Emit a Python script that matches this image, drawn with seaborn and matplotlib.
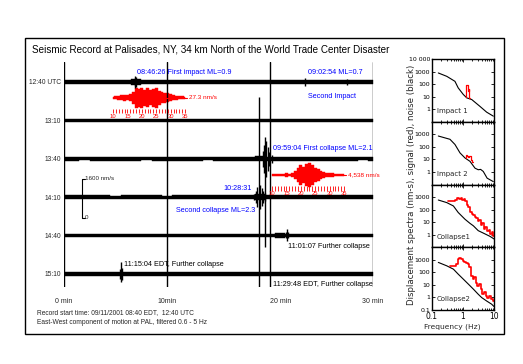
import numpy as np
import pandas as pd
import matplotlib
matplotlib.use("Agg")
import matplotlib.pyplot as plt
import seaborn as sns
from matplotlib.patches import Rectangle
from matplotlib.ticker import FixedLocator, NullLocator, LogLocator, NullFormatter

sns.set_theme(style="white")
plt.rcParams['font.family'] = ['Liberation Sans', 'DejaVu Sans']

# ------------------------------------------------------------------ data
trace_labels = ["12:40 UTC", "13:10", "13:40", "14:10", "14:40", "15:10"]
minutes = list(range(31))
# half-amplitude of background noise on each trace, nm/s, one value per minute
noise_0 = [68, 72, 70, 76, 72, 74, 80, 110, 76, 72, 74, 70, 76, 72, 72, 74, 76, 72, 70, 72, 74, 76, 72, 80, 85, 76, 72, 78, 80, 74, 72]
noise_1 = [70, 72, 74, 72, 70, 76, 72, 74, 72, 70, 72, 76, 74, 72, 72, 70, 72, 74, 76, 72, 72, 74, 72, 70, 76, 74, 72, 72, 70, 72, 74]
noise_2 = [72, 74, 70, 72, 76, 72, 74, 72, 70, 74, 72, 76, 72, 74, 70, 72, 74, 76, 80, 105, 95, 84, 80, 76, 74, 72, 76, 74, 72, 70, 72]
noise_3 = [74, 72, 76, 72, 74, 70, 72, 74, 76, 72, 70, 74, 72, 76, 74, 72, 74, 76, 90, 115, 90, 80, 76, 74, 72, 74, 72, 76, 74, 72, 74]
noise_4 = [76, 74, 72, 76, 74, 72, 76, 74, 72, 74, 76, 72, 74, 72, 76, 74, 72, 74, 76, 74, 76, 90, 76, 74, 72, 76, 74, 72, 74, 76, 74]
noise_5 = [76, 74, 76, 72, 74, 80, 90, 76, 74, 76, 72, 74, 76, 74, 72, 76, 74, 72, 76, 74, 76, 74, 72, 76, 74, 72, 76, 74, 72, 76, 74]
noise_traces = [noise_0, noise_1, noise_2, noise_3, noise_4, noise_5]

# transient arrivals: trace index, time (min), upward and downward excursion (nm/s)
event_trace = [0, 0, 0, 0, 0,
               2, 2, 2, 2, 2, 2, 2,
               3, 3, 3, 3, 3, 3, 3, 3,
               4, 4, 4,
               5, 5, 5]
event_time = [6.85, 6.9, 6.95, 23.4, 27.5,
              19.3, 19.45, 19.55, 19.65, 19.8, 19.95, 20.15,
              18.4, 18.6, 18.75, 18.9, 19.05, 19.2, 19.35, 19.55,
              21.55, 21.65, 21.75,
              5.45, 5.53, 5.6]
event_up = [170, 250, 210, 170, 125,
            333, 583, 917, 750, 500, 292, 167,
            125, 250, 417, 4170, 500, 375, 250, 167,
            150, 290, 150,
            210, 500, 250]
event_down = [170, 250, 210, 170, 125,
              333, 583, 3670, 750, 500, 292, 167,
              125, 250, 417, 3830, 500, 375, 250, 167,
              120, 210, 120,
              210, 330, 250]

# red magnified waveforms (normalised envelope, one value per second, 10..35 s)
inset_seconds = list(range(10, 36))
inset_tick_labels = ["10", "15", "20", "25", "30", "35"]
impact_env = [0.1, 0.15, 0.2, 0.25, 0.3, 0.25, 0.35, 0.6, 1.0, 0.9, 1.0, 0.8, 0.95,
              0.75, 0.9, 1.0, 0.7, 0.55, 0.5, 0.45, 0.35, 0.25, 0.2, 0.15, 0.15, 0.1]
collapse_env = [0.05, 0.05, 0.05, 0.1, 0.12, 0.15, 0.12, 0.15, 0.3, 0.55, 0.85, 0.7, 0.95,
                1.0, 0.8, 0.6, 0.5, 0.3, 0.25, 0.2, 0.15, 0.2, 0.1, 0.08, 0.05, 0.05]
impact_peak_label = "27.3 nm/s"
collapse_peak_label = "4,538 nm/s"

# displacement spectra (nm-s)
imp1_noise_f = [0.16, 0.30, 0.55, 0.70, 1.02, 1.32, 1.91, 3.5, 5.8, 9.5]
imp1_noise_v = [770, 415, 166, 50, 15, 8, 5.9, 1.7, 0.58, 0.28]
imp1_sig_f = [1.25, 1.28, 1.40, 1.42, 1.52, 1.55, 1.68]
imp1_sig_v = [10, 85, 85, 30, 30, 40, 8]

imp2_noise_f = [0.16, 0.38, 0.55, 0.80, 1.16, 1.68, 2.44, 3.1, 3.7, 4.5, 6.0, 9.5]
imp2_noise_v = [730, 400, 155, 33, 13, 7, 2, 1.5, 1.6, 1.1, 0.32, 0.17]
imp2_sig_f = [1.27, 1.32, 1.45, 1.55, 1.65, 1.85, 2.05]
imp2_sig_v = [12, 22, 20, 17, 19, 9, 6]

col1_noise_f = [0.16, 0.30, 0.49, 0.70, 1.16, 1.68, 2.16, 3.1, 4.5, 7.4, 10.0]
col1_noise_v = [580, 360, 195, 59, 17, 8, 5.1, 2.1, 1.35, 0.74, 0.46]
col1_sig_f = [0.33, 0.4, 0.5, 0.6, 0.7, 0.8, 0.9, 1.0, 1.1, 1.2, 1.4, 1.6, 1.8, 2.0,
              2.2, 2.5, 2.8, 3.2, 3.6, 4.0, 4.5, 5.0, 5.6, 6.3, 7.0, 8.0, 9.0, 10.0]
col1_sig_v = [450, 480, 520, 600, 800, 700, 850, 600, 650, 450, 250, 150, 60, 45,
              40, 25, 20, 12, 15, 6, 8, 3, 4, 2, 2.5, 1.2, 1.5, 0.8]

col2_noise_f = [0.16, 0.30, 0.49, 0.70, 1.02, 1.49, 2.16, 3.1, 4.0, 5.8, 8.4, 10.0]
col2_noise_v = [620, 330, 180, 72, 29, 11.5, 4.6, 1.8, 0.98, 0.52, 0.29, 0.19]
col2_sig_f = [0.38, 0.55, 0.63, 0.70, 0.80, 0.91, 1.02, 1.16, 1.32, 1.49, 1.68, 1.91, 2.16,
              2.44, 2.77, 3.1, 3.5, 4.0, 4.5, 5.1, 5.8, 6.5, 7.4, 8.4, 10.0]
col2_sig_v = [300, 330, 450, 1150, 1300, 1150, 830, 700, 550, 450, 245, 52, 29,
              39, 15, 8.3, 11.5, 4.6, 1.8, 2.5, 1.3, 0.98, 1.3, 0.72, 0.52]

panel_names = ["Impact 1", "Impact 2", "Collapse1", "Collapse2"]

# ------------------------------------------------------------------ figure
W, H = 523, 364
fig = plt.figure(figsize=(W / 100, H / 100), dpi=100)
fig.patch.set_facecolor("white")

def fx(px):
    return px / W

def fy(py):
    return 1 - py / H

# outer frame
fig.patches.append(Rectangle((fx(25), fy(334)), fx(504) - fx(25), fy(38) - fy(334),
                             transform=fig.transFigure, fill=False, ec="black", lw=1.0))

fig.text(fx(32), fy(49), "Seismic Record at Palisades, NY, 34 km North of the World Trade Center Disaster",
         fontsize=7.1, ha="left", va="center", color="black")
fig.text(fx(37), fy(313), "Record start time: 09/11/2001 08:40 EDT,  12:40 UTC",
         fontsize=4.8, ha="left", va="center")
fig.text(fx(37), fy(322), "East-West component of motion at PAL, filtered 0.6 - 5 Hz",
         fontsize=4.8, ha="left", va="center")

# ---------------------------------------------------------------- seismogram
SPACING = 1600.0          # nm/s between traces (matches the 1600 nm/s scale bar)
PX = SPACING / 38.4       # nm/s per pixel
top_px, bot_px, c0_px = 62, 287, 82
ax = fig.add_axes([fx(64), fy(bot_px), fx(373) - fx(64), fy(top_px) - fy(bot_px)])
ax.set_xlim(0, 30)
ax.set_ylim(-(bot_px - c0_px) * PX, (c0_px - top_px) * PX)
for s in ax.spines.values():
    s.set_visible(False)
ax.set_facecolor("none")

offsets = [-SPACING * i for i in range(len(trace_labels))]
for off, nz in zip(offsets, noise_traces):
    nz = np.array(nz, dtype=float)
    ax.fill_between(minutes, off - nz, off + nz, step="mid", color="black", lw=0.3, ec="black")

ev = pd.DataFrame({"trace": event_trace, "t": event_time, "up": event_up, "down": event_down})
ev["off"] = [offsets[i] for i in ev["trace"]]
ax.vlines(ev["t"], ev["off"] - ev["down"], ev["off"] + ev["up"], color="black", lw=1.0)

for t in [0, 10, 20, 30]:
    ax.axvline(t, color="black", lw=1.0)

ax.set_yticks(offsets)
ax.set_yticklabels(trace_labels, fontsize=4.8)
ax.set_xticks([0, 10, 20, 30])
ax.set_xticklabels(["0 min", "10min", "20 min", "30 min"], fontsize=5)
ax.tick_params(axis="both", length=0)
ax.tick_params(axis="y", pad=2)
ax.tick_params(axis="x", pad=8)
ax.get_xticklabels()[2].set_ha("left")

def Y(py):
    return -(py - c0_px) * PX

def T(px):
    return (px - 64) / 10.3

# red insets
SEC2MIN = 0.28
def draw_inset(start_min, base_py, env, peak_label, amp_px, tick_top_py, tick_bot_py, lab_py):
    t = [start_min + (s - inset_seconds[0]) * SEC2MIN for s in inset_seconds]
    env = np.array(env, dtype=float)
    base = Y(base_py)
    ax.plot([t[0], t[-1] + 0.5 * SEC2MIN], [base, base], color="red", lw=0.8)
    ax.fill_between(t, base - env * amp_px * PX, base + env * amp_px * PX, step="mid",
                    color="red", lw=0.3, ec="red")
    ax.vlines(t, Y(tick_bot_py), Y(tick_top_py), color="red", lw=0.6)
    for k, lab in enumerate(inset_tick_labels):
        ax.text(t[0] + 5 * k * SEC2MIN, Y(lab_py), lab, color="red", fontsize=4.2,
                ha="center", va="center")
    ax.text(t[-1] + 1.3 * SEC2MIN, base, peak_label, color="red", fontsize=4.6,
            ha="left", va="center")

draw_inset(T(113), 97.5, impact_env, impact_peak_label, 10, 109, 113, 117)
draw_inset(T(272), 175, collapse_env, collapse_peak_label, 12, 186, 190.5, 194)

# scale bar
sbx = T(81.7)
ax.plot([sbx + 0.3, sbx, sbx, sbx + 0.3], [Y(179), Y(179), Y(218), Y(218)], color="black", lw=0.8)
ax.text(sbx + 0.32, Y(179), "1600 nm/s", fontsize=4.5, ha="left", va="center")
ax.text(sbx + 0.32, Y(218), "0", fontsize=4.5, ha="left", va="center")

blue = "#0000ff"
fs = 5.2
ax.text(T(137), Y(72), "08:46:26 First impact ML=0.9", color=blue, fontsize=fs, ha="left", va="center")
ax.text(T(308), Y(72), "09:02:54 ML=0.7", color=blue, fontsize=fs, ha="left", va="center")
ax.text(T(308), Y(97), "Second Impact", color=blue, fontsize=fs, ha="left", va="center")
ax.text(T(273), Y(148), "09:59:04 First collapse ML=2.1", color=blue, fontsize=fs, ha="left", va="center")
ax.text(T(252), Y(189), "10:28:31", color=blue, fontsize=fs, ha="right", va="center")
ax.text(T(255), Y(211), "Second collapse ML=2.3", color=blue, fontsize=fs, ha="right", va="center")
ax.text(T(288), Y(247), "11:01:07 Further collapse", color="black", fontsize=fs, ha="left", va="center")
ax.text(T(124), Y(265), "11:15:04 EDT, Further collapse", color="black", fontsize=fs, ha="left", va="center")
ax.text(T(273), Y(284), "11:29:48 EDT, Further collapse", color="black", fontsize=fs, ha="left", va="center")

# ---------------------------------------------------------------- spectra
spectra = [
    (imp1_noise_f, imp1_noise_v, imp1_sig_f, imp1_sig_v),
    (imp2_noise_f, imp2_noise_v, imp2_sig_f, imp2_sig_v),
    (col1_noise_f, col1_noise_v, col1_sig_f, col1_sig_v),
    (col2_noise_f, col2_noise_v, col2_sig_f, col2_sig_v),
]
sp_top, sp_bot = 59, 310
ph = (sp_bot - sp_top) / 4
ytick_vals = [0.1, 1, 10, 100, 1000, 10000]
ytick_txt = ["0.1", "1", "10", "100", "1000", "10 000"]
for i, (nf, nv, sf, sv) in enumerate(spectra):
    top = sp_top + i * ph
    a = fig.add_axes([fx(432), fy(top + ph), fx(494) - fx(432), fy(top) - fy(top + ph)])
    a.set_facecolor("white")
    sns.lineplot(x=nf, y=nv, ax=a, color="black", lw=0.8, estimator=None, sort=False)
    sns.lineplot(x=sf, y=sv, ax=a, color="red", lw=1.2 if i >= 2 else 0.9,
                 estimator=None, sort=False, drawstyle="steps-mid")
    a.set_xscale("log")
    a.set_yscale("log")
    a.set_xlim(0.1, 10)
    a.set_ylim(0.1, 10000)
    if i == 0:
        keep = [1, 10, 100, 1000, 10000]
    elif i == 3:
        keep = [0.1, 1, 10, 100, 1000]
    else:
        keep = [1, 10, 100, 1000]
    a.yaxis.set_major_locator(FixedLocator(ytick_vals))
    a.set_yticklabels([t if v in keep else "" for v, t in zip(ytick_vals, ytick_txt)],
                      fontsize=4.5, family="DejaVu Sans")
    a.yaxis.set_minor_locator(NullLocator())
    a.xaxis.set_major_locator(FixedLocator([0.1, 1, 10]))
    a.xaxis.set_minor_locator(LogLocator(base=10, subs=np.arange(2, 10)))
    a.xaxis.set_minor_formatter(NullFormatter())
    if i == 3:
        a.set_xticklabels(["0.1", "1", "10"], fontsize=5.5, family="DejaVu Sans")
    else:
        a.set_xticklabels([])
    a.tick_params(which="both", direction="in", top=True, right=True, left=True, bottom=True,
                  width=0.6, colors="black", pad=1.5)
    a.tick_params(which="major", length=2.2)
    a.tick_params(which="minor", length=1.4)
    a.set_xlabel("")
    a.set_ylabel("")
    for s in a.spines.values():
        s.set_color("black")
        s.set_linewidth(1.0)
    a.text(0.08, 0.17, panel_names[i], transform=a.transAxes, fontsize=5, family="DejaVu Sans",
           ha="left", va="center")

fig.text(fx(411), fy((sp_top + sp_bot) / 2), "Displacement spectra (nm-s), signal (red), noise (black)",
         rotation=90, fontsize=6.2, family="DejaVu Sans", ha="center", va="center")
fig.text(fx(452), fy(327), "Frequency (Hz)", fontsize=5.4, family="DejaVu Sans", ha="center", va="center")

fig.savefig("out.png", dpi=100, facecolor="white")
